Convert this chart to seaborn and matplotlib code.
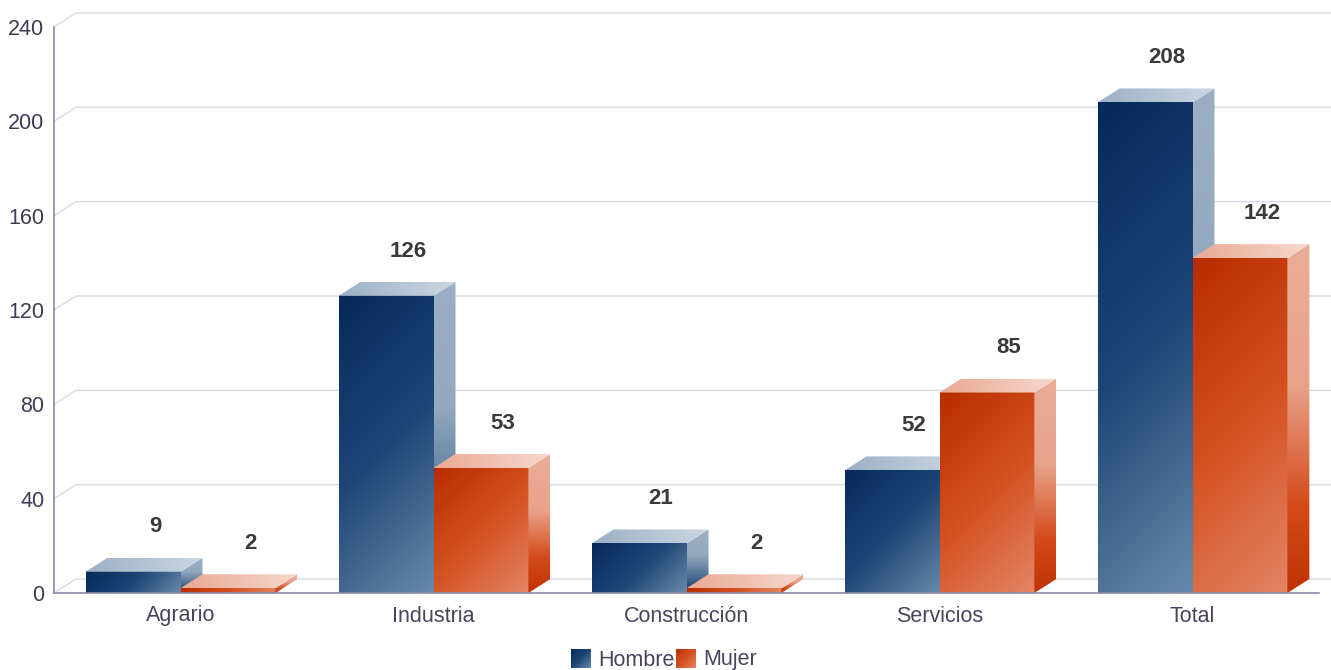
import matplotlib
matplotlib.use('Agg')
import matplotlib.pyplot as plt
import numpy as np
import pandas as pd
import seaborn as sns
from matplotlib.colors import LinearSegmentedColormap
from matplotlib.patches import Polygon

# data
sectores = ['Agrario', 'Industria', 'Construcción', 'Servicios', 'Total']
hombre = [9, 126, 21, 52, 208]
mujer = [2, 53, 2, 85, 142]
yticks = [0, 40, 80, 120, 160, 200, 240]

W, H = 1331, 670
PX_X = 1265 / 5          # pixels per category
PX_Y = 566 / 240         # pixels per unit
DX = 22 / PX_X           # 3d depth in data units
DY = 14 / PX_Y

front_cm = {
    'Hombre': LinearSegmentedColormap.from_list('hf', ['#052a5a', '#1c4676', '#6889a9']),
    'Mujer': LinearSegmentedColormap.from_list('mf', ['#b82d00', '#d4501f', '#e38566']),
}
top_cm = {
    'Hombre': LinearSegmentedColormap.from_list('ht', ['#9cb0c5', '#cbd7e2']),
    'Mujer': LinearSegmentedColormap.from_list('mt', ['#eaa993', '#f6d8cd']),
}
side_cm = {
    'Hombre': LinearSegmentedColormap.from_list(
        'hs', [(0, '#9aafc3'), (0.4, '#93a9bf'), (0.75, '#4a6d92'), (1, '#0a3262')]),
    'Mujer': LinearSegmentedColormap.from_list(
        'ms', [(0, '#eaad98'), (0.4, '#e8a38b'), (0.75, '#d44a1a'), (1, '#bf3205')]),
}


def gradient(ax, x0, x1, y0, y1, cmap, mode, z, clip=None):
    """Paint a gradient over a box, optionally clipped to a polygon."""
    wpx = (x1 - x0) * PX_X
    hpx = (y1 - y0) * PX_Y
    u = np.linspace(0, 1, 200)[None, :]
    v = np.linspace(0, 1, 200)[:, None]
    if mode == 'diag':
        t = (u * wpx + v * hpx) / (wpx + hpx)
    elif mode == 'h':
        t = u + 0 * v
    else:
        t = v + 0 * u
    im = ax.imshow(t, extent=(x0, x1, y0, y1), origin='upper', aspect='auto',
                   cmap=cmap, vmin=0, vmax=1, zorder=z, interpolation='bilinear')
    if clip is not None:
        im.set_clip_path(clip)
    return im


df = pd.DataFrame({
    'Sector': sectores * 2,
    'Valor': hombre + mujer,
    'Sexo': ['Hombre'] * len(sectores) + ['Mujer'] * len(sectores),
})

sns.set_style('white')
plt.rcParams['font.family'] = ['Liberation Sans', 'DejaVu Sans']

fig = plt.figure(figsize=(W / 100, H / 100), dpi=100)
ax = fig.add_axes([54 / W, 77 / H, 1265 / W, 566 / H])

sns.barplot(data=df, x='Sector', y='Valor', hue='Sexo', order=sectores,
            hue_order=['Hombre', 'Mujer'], width=0.75, errorbar=None,
            legend=False, ax=ax)

bars = sorted(ax.patches, key=lambda p: p.get_x())
for k, p in enumerate(bars):
    p.set_visible(False)
    sexo = 'Hombre' if k % 2 == 0 else 'Mujer'
    x0 = p.get_x()
    x1 = x0 + p.get_width()
    h = p.get_height()
    z = 3 + k * 0.01
    # front face
    gradient(ax, x0, x1, 0, h, front_cm[sexo], 'diag', z)
    # side face
    side = Polygon([(x1, 0), (x1 + DX, DY), (x1 + DX, h + DY), (x1, h)],
                   closed=True, transform=ax.transData)
    gradient(ax, x1, x1 + DX, 0, h + DY, side_cm[sexo], 'v', z, clip=side)
    # top face
    top = Polygon([(x0, h), (x0 + DX, h + DY), (x1 + DX, h + DY), (x1, h)],
                  closed=True, transform=ax.transData)
    gradient(ax, x0, x1 + DX, h, h + DY, top_cm[sexo], 'h', z, clip=top)
    # value label
    ax.text((x0 + x1) / 2 + DX, h + 19, f'{h:.0f}', ha='center', va='center',
            fontsize=16, fontweight='bold', color='#3a3a3a', zorder=10)

# back wall grid lines with the 3d offset
x_end = 4.5 + 12 / PX_X
for v in yticks:
    ax.plot([-0.5, -0.5 + DX, x_end], [v, v + DY, v + DY], color='#dcdce8',
            lw=1.1, zorder=1, clip_on=False)

ax.set_xlim(-0.5, 4.5)
ax.set_ylim(0, 240)
ax.set_yticks(yticks)
ax.set_xlabel('')
ax.set_ylabel('')
ax.tick_params(axis='y', length=0, pad=7, labelsize=15.5, labelcolor='#3c3c58')
ax.tick_params(axis='x', length=0, pad=9, labelsize=15.5, labelcolor='#45455f')
for side_name in ['top', 'right']:
    ax.spines[side_name].set_visible(False)
for side_name in ['left', 'bottom']:
    ax.spines[side_name].set_color('#8a8aaa')
    ax.spines[side_name].set_linewidth(1.2)
    ax.spines[side_name].set_zorder(20)

# legend with gradient swatches
for sexo, sx, tx in [('Hombre', 571, 598), ('Mujer', 676, 703)]:
    sw = fig.add_axes([sx / W, 2 / H, 20 / W, 19 / H])
    t = (np.linspace(0, 1, 50)[None, :] + np.linspace(0, 1, 50)[:, None]) / 2
    sw.imshow(t, cmap=front_cm[sexo], vmin=0, vmax=1, aspect='auto',
              interpolation='bilinear')
    sw.axis('off')
    fig.text(tx / W, 1 - 660 / H, sexo, ha='left', va='center',
             fontsize=15.5, color='#45455f')

fig.savefig('out.png', dpi=100)
